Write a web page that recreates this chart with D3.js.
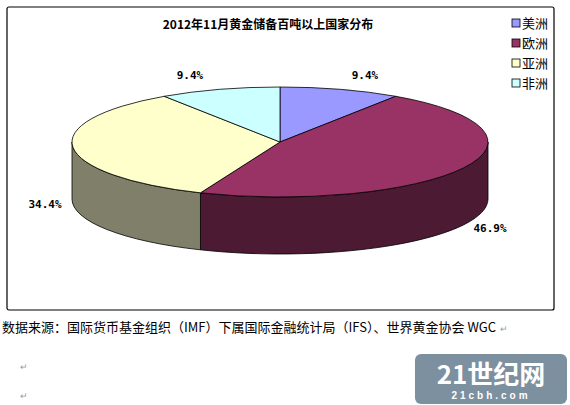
<!DOCTYPE html><html><head><meta charset="utf-8">
<script src="https://cdn.jsdelivr.net/npm/d3@7"></script>
<style>body{margin:0;background:#fff}</style></head><body>
<svg id="c" width="570" height="405"></svg>
<script>
const categories=["美洲","欧洲","亚洲","非洲"];
const values=[9.4,46.9,34.4,9.4];
const labels=["9.4%","46.9%","34.4%","9.4%"];
const topColors=["#9999FF","#993366","#FFFFCC","#CCFFFF"];
const sideColors=["#5C5C99","#4D1A33","#80806A","#668080"];
const svg=d3.select("#c");
const f="SimSun,'Noto Sans CJK SC',sans-serif";
svg.append("rect").attr("x",7).attr("y",7).attr("width",547).attr("height",303).attr("fill","#fff").attr("stroke","#000").attr("stroke-width",1.2).attr("rx",2);
svg.append("text").attr("x",268).attr("y",29).attr("text-anchor","middle").attr("font-family",f).attr("font-weight","bold").attr("font-size",12).text("2012年11月黄金储备百吨以上国家分布");
const cx=280,cy=142,rx=208,ry=55,dep=57;
const P=(a,d=0)=>[cx+rx*Math.sin(a),cy-ry*Math.cos(a)+d];
const arcs=d3.pie().sort(null).value(d=>d)(values);
const g=svg.append("g").attr("stroke","#000").attr("stroke-width",0.8);
arcs.forEach((a,i)=>{
  const a0=Math.max(a.startAngle,Math.PI/2),a1=Math.min(a.endAngle,3*Math.PI/2);
  if(a1>a0){
    const p0=P(a0),p1=P(a1),q0=P(a0,dep),q1=P(a1,dep),lg=(a1-a0)>Math.PI?1:0;
    g.append("path").attr("fill",sideColors[i]).attr("d",`M${p0}A${rx},${ry} 0 ${lg} 1 ${p1}L${q1}A${rx},${ry} 0 ${lg} 0 ${q0}Z`);
  }
});
arcs.forEach((a,i)=>{
  const p0=P(a.startAngle),p1=P(a.endAngle),lg=(a.endAngle-a.startAngle)>Math.PI?1:0;
  g.append("path").attr("fill",topColors[i]).attr("d",`M${cx},${cy}L${p0}A${rx},${ry} 0 ${lg} 1 ${p1}Z`);
});
const lp=[[365,79],[490,232],[45,208],[190,79]];
labels.forEach((t,i)=>svg.append("text").attr("x",lp[i][0]).attr("y",lp[i][1]).attr("text-anchor","middle").attr("font-family","'DejaVu Sans Mono',monospace").attr("font-weight","bold").attr("font-size",11).text(t));
categories.forEach((c,i)=>{
  const y=16+i*20;
  svg.append("rect").attr("x",512).attr("y",y+3).attr("width",8).attr("height",8).attr("fill",topColors[i]).attr("stroke","#000").attr("stroke-width",0.8);
  svg.append("text").attr("x",522).attr("y",y+12).attr("font-family",f).attr("font-size",13).text(c);
});
svg.append("text").attr("x",2).attr("y",332).attr("font-family",f).attr("font-size",13).text("数据来源：国际货币基金组织（IMF）下属国际金融统计局（IFS）、世界黄金协会 WGC");
svg.append("text").attr("x",500).attr("y",332).attr("font-size",9).attr("fill","#999").text("↵");
svg.append("text").attr("x",20).attr("y",370).attr("font-size",9).attr("fill","#999").text("↵");
svg.append("text").attr("x",20).attr("y",399).attr("font-size",9).attr("fill","#999").text("↵");
svg.append("rect").attr("x",415).attr("y",354).attr("width",152).attr("height",50).attr("rx",6).attr("fill","#7D90A0");
svg.append("text").attr("x",491).attr("y",384).attr("text-anchor","middle").attr("font-family",f).attr("font-weight","bold").attr("font-size",26).attr("fill","#fff").text("21世纪网");
svg.append("text").attr("x",491).attr("y",399).attr("text-anchor","middle").attr("font-family","Arial,sans-serif").attr("font-weight","bold").attr("font-size",10).attr("letter-spacing",3).attr("fill","#fff").text("21cbh.com");
</script></body></html>
